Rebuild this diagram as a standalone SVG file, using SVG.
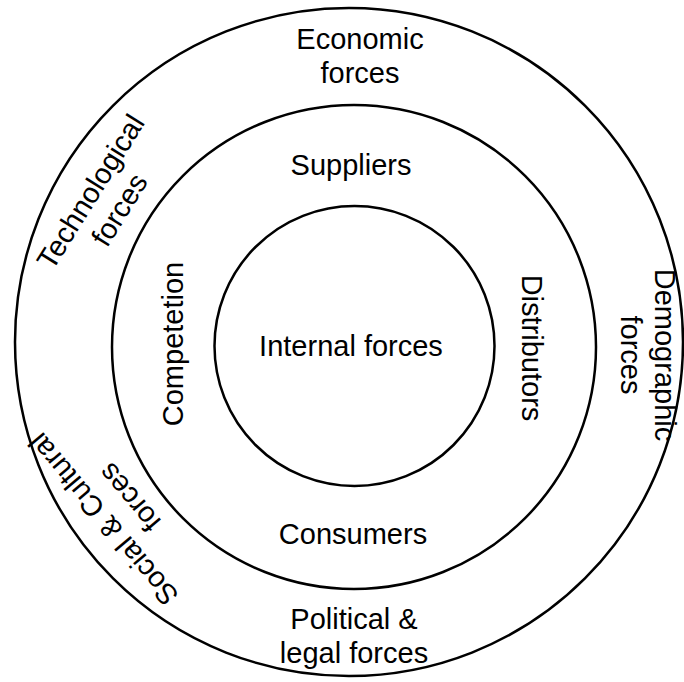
<svg xmlns="http://www.w3.org/2000/svg" width="684" height="682" viewBox="0 0 684 682">
<style>
.ring{fill:none;stroke:#000;stroke-width:2.5}
text{font-family:"Liberation Sans",Arial,sans-serif;font-size:29px;fill:#000;text-anchor:middle}
</style>
<rect width="684" height="682" fill="#fff"/>
<g id="outer-ring">
<circle class="ring" cx="349" cy="342" r="334"/>
<text x="360" y="49">Economic</text>
<text x="360" y="83">forces</text>
<text transform="translate(99,197) rotate(-58)"><tspan x="0" y="0">Technological</tspan><tspan x="0" y="34">forces</tspan></text>
<text transform="translate(655,355) rotate(90)"><tspan x="0" y="0">Demographic</tspan><tspan x="0" y="34">forces</tspan></text>
<text transform="translate(111,513) rotate(-130)"><tspan x="0" y="0">Social &amp; Cultural</tspan><tspan x="0" y="34">forces</tspan></text>
<text x="354" y="629">Political &amp;</text>
<text x="354" y="663">legal forces</text>
</g>
<g id="middle-ring">
<circle class="ring" cx="354" cy="347" r="242"/>
<text x="351" y="175">Suppliers</text>
<text x="353" y="544">Consumers</text>
<text transform="translate(183,344) rotate(-90)">Competetion</text>
<text transform="translate(522,348) rotate(90)">Distributors</text>
</g>
<g id="inner-ring">
<circle class="ring" cx="354.5" cy="346" r="140"/>
<text x="351" y="356">Internal forces</text>
</g>
<g id="connectors"></g>
</svg>
